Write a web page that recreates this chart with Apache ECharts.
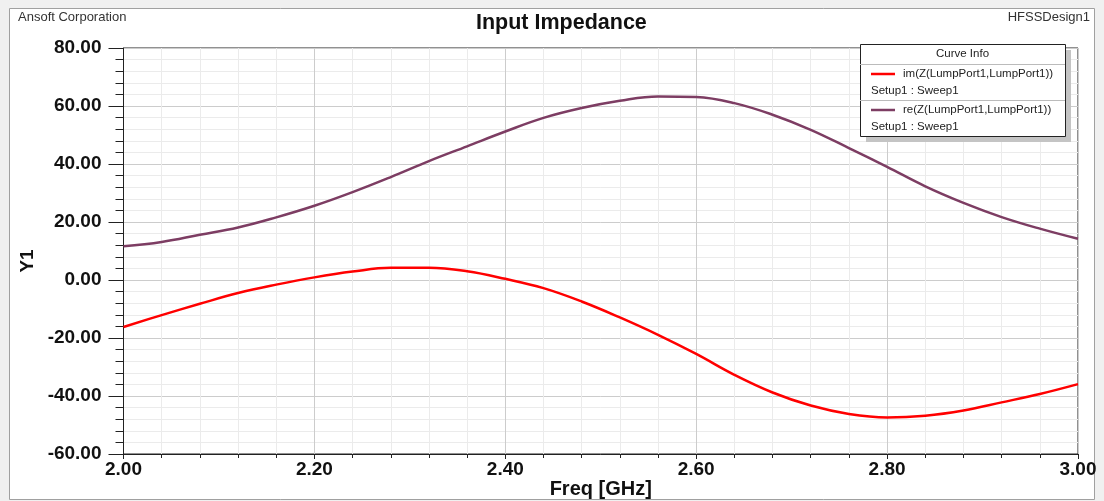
<!DOCTYPE html>
<html>
<head>
<meta charset="utf-8">
<title>Input Impedance</title>
<script src="https://cdn.jsdelivr.net/npm/echarts@6/dist/echarts.min.js"></script>
<style>
  html, body { margin: 0; padding: 0; background: #f0f0f0; }
  #content { width: 1104px; height: 501px; }
</style>
</head>
<body>
<div id="content"></div>
<script>
// frequency points (GHz)
const freq = [2.00, 2.04, 2.08, 2.12, 2.16, 2.20, 2.24, 2.28, 2.32, 2.36, 2.40, 2.44, 2.48,
  2.52, 2.56, 2.60, 2.64, 2.68, 2.72, 2.76, 2.80, 2.84, 2.88, 2.92, 2.96, 3.00]
// im(Z(LumpPort1,LumpPort1))
const imZ = [-16.2, -12.1, -8.2, -4.5, -1.6, 0.9, 2.9, 4.2, 4.2, 3.0, 0.4, -2.8, -7.4,
  -12.9, -18.9, -25.5, -32.7, -38.8, -43.3, -46.2, -47.4, -46.8, -45.0, -42.2, -39.3, -35.9]
// re(Z(LumpPort1,LumpPort1))
const reZ = [11.6, 13.1, 15.6, 18.1, 21.6, 25.6, 30.3, 35.5, 41.0, 46.1, 51.2, 55.9, 59.3,
  61.8, 63.3, 63.1, 61.0, 57.0, 51.8, 45.5, 39.0, 32.3, 26.6, 21.7, 17.7, 14.2]
const curveNames = ['im(Z(LumpPort1,LumpPort1))', 're(Z(LumpPort1,LumpPort1))']
const curveColors = ['#ff0000', '#7d3d63']

const font = 'Arial, "Liberation Sans", sans-serif'

const myChart = echarts.init(document.querySelector('#content'))

// legend box ("Curve Info") drawn by hand, on top of the grid
const lx = 860, ly = 44, lw = 205, lh = 92
const legendFont = '11.5px ' + font
const legendItems = [
  {type: 'rect', shape: {x: lx + 6, y: ly + 6, width: lw, height: lh}, style: {fill: '#c4c4c4'}},
  {type: 'rect', shape: {x: lx + 0.5, y: ly + 0.5, width: lw, height: lh}, style: {fill: '#fff', stroke: '#222', lineWidth: 1}},
  {type: 'text', x: lx + lw / 2, y: ly + 10, style: {text: 'Curve Info', font: legendFont, fill: '#222', align: 'center', verticalAlign: 'middle'}},
  {type: 'line', shape: {x1: lx, y1: ly + 20.5, x2: lx + lw, y2: ly + 20.5}, style: {stroke: '#bbb'}},
  {type: 'line', shape: {x1: lx + 11, y1: ly + 30, x2: lx + 35, y2: ly + 30}, style: {stroke: curveColors[0], lineWidth: 2.5}},
  {type: 'text', x: lx + 43, y: ly + 30, style: {text: curveNames[0], font: legendFont, fill: '#222', verticalAlign: 'middle'}},
  {type: 'text', x: lx + 11, y: ly + 47, style: {text: 'Setup1 : Sweep1', font: legendFont, fill: '#222', verticalAlign: 'middle'}},
  {type: 'line', shape: {x1: lx, y1: ly + 56.5, x2: lx + lw, y2: ly + 56.5}, style: {stroke: '#bbb'}},
  {type: 'line', shape: {x1: lx + 11, y1: ly + 66, x2: lx + 35, y2: ly + 66}, style: {stroke: curveColors[1], lineWidth: 2.5}},
  {type: 'text', x: lx + 43, y: ly + 66, style: {text: curveNames[1], font: legendFont, fill: '#222', verticalAlign: 'middle'}},
  {type: 'text', x: lx + 11, y: ly + 83, style: {text: 'Setup1 : Sweep1', font: legendFont, fill: '#222', verticalAlign: 'middle'}}
].map(el => Object.assign({z: 100}, el))

myChart.setOption({
  animation: false,
  textStyle: {fontFamily: font},
  title: {
    text: 'Input Impedance',
    left: 471,
    top: 7,
    textStyle: {fontSize: 21.5, fontWeight: 'bold', color: '#111', fontFamily: font}
  },
  graphic: [
    {
      type: 'rect', z: -10,
      shape: {x: 9.5, y: 8.5, width: 1085, height: 491},
      style: {fill: '#fff', stroke: '#a0a0a0', lineWidth: 1}
    },
    {type: 'text', left: 18, top: 11, style: {text: 'Ansoft Corporation', font: '13px ' + font, fill: '#333'}},
    {type: 'text', right: 14, top: 11, style: {text: 'HFSSDesign1', font: '13px ' + font, fill: '#333'}}
  ].concat(legendItems),
  grid: {
    left: 123.5,
    right: 26,
    top: 48,
    bottom: 47,
    outerBoundsMode: 'none',
    containLabel: false,
    show: true,
    borderColor: '#222',
    borderWidth: 1
  },
  xAxis: {
    type: 'value',
    min: 2,
    max: 3,
    interval: 0.2,
    name: 'Freq [GHz]',
    nameLocation: 'middle',
    nameGap: 25,
    nameMoveOverlap: false,
    nameTextStyle: {fontSize: 20, fontWeight: 'bold', color: '#111'},
    axisLine: {onZero: false, lineStyle: {color: '#222'}},
    axisTick: {length: 5, lineStyle: {color: '#222'}},
    minorTick: {show: true, splitNumber: 5, length: 4, lineStyle: {color: '#222'}},
    splitLine: {show: true, lineStyle: {color: '#cccccc'}},
    minorSplitLine: {show: true, lineStyle: {color: '#ebebeb'}},
    axisLabel: {
      fontSize: 19, fontWeight: 'bold', color: '#111', margin: 6,
      formatter: v => v.toFixed(2)
    }
  },
  yAxis: {
    type: 'value',
    min: -60,
    max: 80,
    interval: 20,
    name: 'Y1',
    nameLocation: 'middle',
    nameGap: 86,
    nameMoveOverlap: false,
    nameTextStyle: {fontSize: 19, fontWeight: 'bold', color: '#111', padding: [0, 20, 0, 0]},
    axisLine: {show: true, onZero: false, lineStyle: {color: '#222'}},
    axisTick: {show: true, length: 15, lineStyle: {color: '#222'}},
    minorTick: {show: true, splitNumber: 5, length: 8, lineStyle: {color: '#222'}},
    splitLine: {show: true, lineStyle: {color: '#cccccc'}},
    minorSplitLine: {show: true, lineStyle: {color: '#ebebeb'}},
    axisLabel: {
      fontSize: 19, fontWeight: 'bold', color: '#111', margin: 22,
      formatter: v => v.toFixed(2)
    }
  },
  series: [
    {
      name: curveNames[0],
      type: 'line',
      smooth: 0.4,
      showSymbol: false,
      lineStyle: {color: curveColors[0], width: 2.5},
      itemStyle: {color: curveColors[0]},
      data: freq.map((f, i) => [f, imZ[i]])
    },
    {
      name: curveNames[1],
      type: 'line',
      smooth: 0.4,
      showSymbol: false,
      lineStyle: {color: curveColors[1], width: 2.5},
      itemStyle: {color: curveColors[1]},
      data: freq.map((f, i) => [f, reZ[i]])
    }
  ]
})
</script>
</body>
</html>
